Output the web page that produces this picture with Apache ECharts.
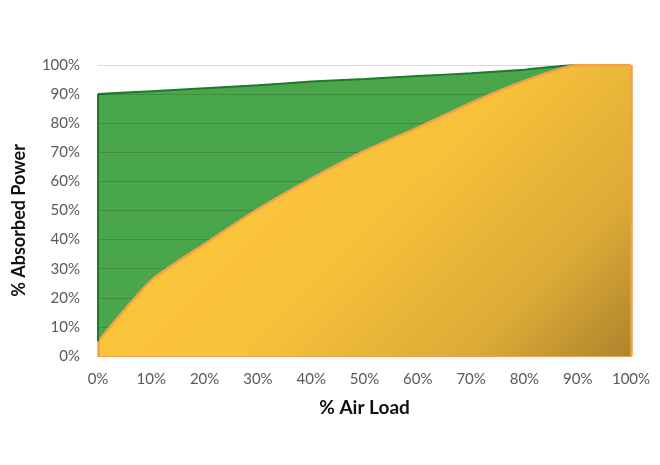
<!DOCTYPE html>
<html><head><meta charset="utf-8">
<script src="https://cdn.jsdelivr.net/npm/echarts@6/dist/echarts.min.js"></script>
<style>html,body{margin:0;padding:0;background:#fff}#c{width:660px;height:465px}</style>
</head><body><div id="c"></div>
<script>
var categories = ['0%','10%','20%','30%','40%','50%','60%','70%','80%','90%','100%'];
var totalPower = [90, 91, 92, 93, 94.3, 95.2, 96.2, 97.2, 98.4, 100, 100];
var absorbedPower = [5, 26, 38.5, 50.5, 61, 70.5, 78.5, 87, 94.5, 100, 100];
var yTicks = [0, 10, 20, 30, 40, 50, 60, 70, 80, 90, 100];

var chart = echarts.init(document.getElementById('c'), null, {renderer: 'canvas'});
chart.setOption({
  animation: false,
  grid: {left: 98, right: 29, top: 65, bottom: 109, show: false},
  xAxis: {
    type: 'category', data: categories, boundaryGap: false,
    name: '% Air Load', nameLocation: 'middle', nameGap: 42,
    nameTextStyle: {fontFamily: 'Lato', fontWeight: 'bold', fontSize: 19, color: '#111'},
    axisLine: {show: true, lineStyle: {color: '#f3a352', width: 2}},
    axisTick: {show: false},
    axisLabel: {fontFamily: 'Lato', fontSize: 15, color: '#595959', margin: 16},
    splitLine: {show: false}
  },
  yAxis: {
    type: 'value', min: yTicks[0], max: yTicks[yTicks.length - 1], interval: 10,
    name: '% Absorbed Power', nameLocation: 'middle', nameGap: 70, nameRotate: 90,
    nameTextStyle: {fontFamily: 'Lato', fontWeight: 'bold', fontSize: 18, color: '#111', padding: [0, 20, 0, 0]},
    axisLine: {show: false}, axisTick: {show: false},
    axisLabel: {fontFamily: 'Lato', fontSize: 15, color: '#595959', margin: 18,
      formatter: function (v) { return v + '%'; }},
    splitLine: {show: true, lineStyle: {color: 'rgba(0,0,0,0.15)', width: 1}}
  },
  series: [
    {
      type: 'line', data: totalPower, z: -1, symbol: 'none', smooth: 0.2,
      lineStyle: {color: '#1d7a2b', width: 2},
      areaStyle: {color: '#4aa64a', opacity: 1},
      markLine: {
        silent: true, symbol: 'none', label: {show: false},
        lineStyle: {color: '#1d7a2b', width: 2, type: 'solid'},
        data: [[{coord: ['0%', absorbedPower[0]]}, {coord: ['0%', totalPower[0]]}]]
      }
    },
    {
      type: 'line', data: absorbedPower, z: 3, symbol: 'none', smooth: 0.2,
      lineStyle: {color: '#f3a04a', width: 2.5},
      areaStyle: {
        opacity: 1,
        color: new echarts.graphic.LinearGradient(0, 0, 0.77, 1.42, [
          {offset: 0, color: '#fdc83c'},
          {offset: 0.52, color: '#f8c13a'},
          {offset: 0.8, color: '#dcab37'},
          {offset: 1, color: '#ae842c'}
        ])
      },
      markLine: {
        silent: true, symbol: 'none', label: {show: false},
        lineStyle: {color: '#f3a04a', width: 2.5, type: 'solid'},
        data: [
          [{coord: ['100%', 0]}, {coord: ['100%', 100]}],
          [{coord: ['0%', 0]}, {coord: ['0%', absorbedPower[0]]}]
        ]
      }
    }
  ]
});
</script></body></html>
